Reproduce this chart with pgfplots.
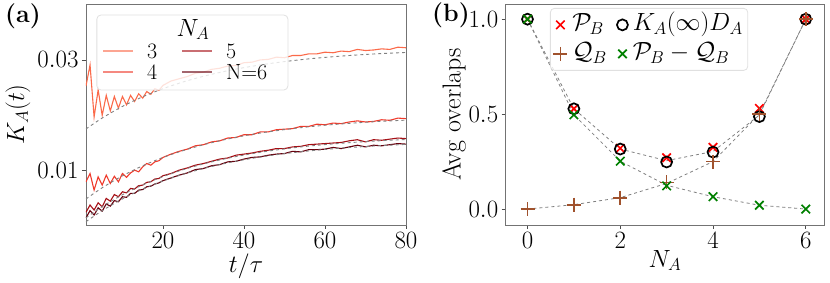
\documentclass[border=0pt]{standalone}
\usepackage{pgfplots}
\usepackage{pgfplotstable}
\pgfplotsset{compat=1.18}
\definecolor{cthree}{HTML}{FB6A4A}
\definecolor{cfour}{HTML}{EF3B2C}
\definecolor{cfive}{HTML}{A50F15}
\definecolor{csix}{HTML}{67000D}
\definecolor{csienna}{HTML}{A0522D}
\definecolor{cgreen}{HTML}{008000}
\pgfplotstableread{
t n3 n4 n5 n6
1 0.0253 0.0080 0.0025 0.0015
2 0.0291 0.0095 0.0038 0.0028
3 0.0197 0.0065 0.0029 0.0020
4 0.0246 0.0089 0.0042 0.0033
5 0.0200 0.0074 0.0035 0.0027
6 0.0236 0.0092 0.0050 0.0040
7 0.0208 0.0077 0.0045 0.0036
8 0.0234 0.0090 0.0057 0.0046
9 0.0213 0.0080 0.0053 0.0044
10 0.0234 0.0095 0.0062 0.0053
11 0.0219 0.0088 0.0060 0.0052
12 0.0236 0.0096 0.0068 0.0059
13 0.0225 0.0101 0.0067 0.0059
14 0.0239 0.0098 0.0073 0.0065
15 0.0231 0.0107 0.0074 0.0066
16 0.0243 0.0113 0.0079 0.0071
17 0.0238 0.0110 0.0080 0.0072
18 0.0248 0.0116 0.0085 0.0076
19 0.0245 0.0118 0.0086 0.0078
20 0.0254 0.0124 0.0091 0.0082
22 0.0262 0.0130 0.0095 0.0087
24 0.0266 0.0135 0.0101 0.0092
26 0.0270 0.0139 0.0105 0.0096
28 0.0276 0.0145 0.0110 0.0102
30 0.0278 0.0147 0.0113 0.0104
32 0.0283 0.0152 0.0117 0.0109
34 0.0285 0.0154 0.0121 0.0111
36 0.0289 0.0159 0.0123 0.0116
38 0.0290 0.0160 0.0128 0.0117
40 0.0295 0.0165 0.0130 0.0121
42 0.0296 0.0165 0.0132 0.0124
44 0.0300 0.0170 0.0135 0.0125
46 0.0301 0.0170 0.0137 0.0128
48 0.0305 0.0174 0.0140 0.0130
50 0.0304 0.0175 0.0140 0.0131
52 0.0308 0.0176 0.0143 0.0135
54 0.0308 0.0180 0.0144 0.0134
56 0.0311 0.0180 0.0147 0.0138
58 0.0311 0.0184 0.0148 0.0138
60 0.0314 0.0183 0.0149 0.0139
62 0.0313 0.0186 0.0150 0.0142
64 0.0316 0.0185 0.0151 0.0140
66 0.0315 0.0188 0.0154 0.0143
68 0.0319 0.0190 0.0156 0.0146
70 0.0317 0.0188 0.0152 0.0143
72 0.0318 0.0189 0.0156 0.0146
74 0.0320 0.0192 0.0155 0.0145
76 0.0319 0.0191 0.0157 0.0147
78 0.0323 0.0195 0.0159 0.0149
80 0.0322 0.0194 0.0158 0.0148
}\solidtab
\pgfplotstableread{
t d3 d4 d5 d6
1 0.01754 0.00490 0.00150 0.00080
5 0.01951 0.00692 0.00352 0.00279
10 0.02161 0.00908 0.00566 0.00491
15 0.02335 0.01089 0.00745 0.00667
20 0.02481 0.01239 0.00894 0.00814
25 0.02603 0.01364 0.01019 0.00937
30 0.02705 0.01469 0.01123 0.01040
35 0.02790 0.01557 0.01210 0.01126
40 0.02861 0.01630 0.01283 0.01198
45 0.02921 0.01691 0.01344 0.01258
50 0.02970 0.01742 0.01394 0.01308
55 0.03012 0.01785 0.01437 0.01350
60 0.03046 0.01821 0.01472 0.01384
65 0.03075 0.01850 0.01501 0.01413
70 0.03099 0.01875 0.01526 0.01437
75 0.03119 0.01896 0.01546 0.01458
80 0.03135 0.01913 0.01563 0.01475
}\dashtab
\begin{document}
\begin{tikzpicture}
\useasboundingbox (-86pt,-58pt) rectangle (744pt,225pt);
\pgfplotsset{myax/.style={scale only axis, height=221pt,
  axis line style={black!55, line width=0.8pt},
  tick style={black!70, line width=0.8pt},
  tick align=outside, tick pos=left, major tick length=4pt,
  tick label style={font=\fontsize{23}{27}\selectfont},
  label style={font=\fontsize{26}{30}\selectfont}}}
\begin{axis}[myax, at={(0pt,0pt)}, anchor=south west, width=320pt,
  xmin=1, xmax=80, ymin=0.0002, ymax=0.0401,
  xtick={20,40,60,80}, ytick={0.01,0.03}, yticklabels={$0.01$,$0.03$},
  scaled y ticks=false,
  xlabel={$t/\tau$}, ylabel={$K_A(t)$},
  xlabel style={at={(axis description cs:0.5,-0.185)}, anchor=center},
  ylabel style={at={(axis description cs:-0.2125,0.5)}, anchor=center},
  legend columns=2,
  legend cell align=left,
  legend image code/.code={\draw[#1] (0pt,0pt) -- (30pt,0pt);},
  legend style={at={(axis description cs:0.041,0.635)}, anchor=south west,
    draw=none, fill=none, font=\fontsize{22}{26}\selectfont,
    nodes={inner ysep=2pt, text height=16pt, text depth=1pt},
    /tikz/every odd column/.append style={column sep=11pt},
    /tikz/every even column/.append style={column sep=22pt}},
]
\addplot[cthree, line width=1.1pt, forget plot] table[x=t,y=n3] {\solidtab};
\addplot[cfour, line width=1.1pt, forget plot] table[x=t,y=n4] {\solidtab};
\addplot[cfive, line width=1.1pt, forget plot] table[x=t,y=n5] {\solidtab};
\addplot[csix, line width=1.1pt, forget plot] table[x=t,y=n6] {\solidtab};
\addplot[gray, dashed, line width=0.9pt, smooth, forget plot] table[x=t,y=d3] {\dashtab};
\addplot[gray, dashed, line width=0.9pt, smooth, forget plot] table[x=t,y=d4] {\dashtab};
\addplot[gray, dashed, line width=0.9pt, smooth, forget plot] table[x=t,y=d5] {\dashtab};
\addplot[gray, dashed, line width=0.9pt, smooth, forget plot] table[x=t,y=d6] {\dashtab};
\draw[fill=white, fill opacity=0.8, draw=black!12, line width=0.8pt, rounded corners=4pt]
  (axis description cs:0.034,0.950) rectangle (axis description cs:0.631,0.611);
\node[font=\fontsize{26}{30}\selectfont] at (axis description cs:0.334,0.885) {$N_A$};
\addlegendimage{cthree, line width=1.8pt, opacity=0.6}
\addlegendentry{3}
\addlegendimage{cfive, line width=1.8pt, opacity=0.6}
\addlegendentry{5}
\addlegendimage{cfour, line width=1.8pt, opacity=0.6}
\addlegendentry{4}
\addlegendimage{csix, line width=1.8pt, opacity=0.6}
\addlegendentry{N=6}
\end{axis}
\node[font=\fontsize{25}{30}\selectfont\bfseries] at (-63pt,209pt) {(a)};
\begin{axis}[myax, at={(419.7pt,0pt)}, anchor=south west, width=318.6pt,
  xmin=-0.47, xmax=6.4, ymin=-0.084, ymax=1.08,
  xtick={0,2,4,6}, ytick={0,0.5,1}, yticklabels={$0.0$,$0.5$,$1.0$},
  xlabel={$N_A$}, ylabel={Avg overlaps},
  xlabel style={at={(axis description cs:0.5,-0.161)}, anchor=center},
  ylabel style={at={(axis description cs:-0.162,0.5)}, anchor=center},
  legend columns=2,
  legend cell align=left,
  legend style={at={(axis description cs:0.139,0.982)}, anchor=north west,
    draw=black!12, line width=0.8pt, rounded corners=4pt, fill=white, fill opacity=0.8,
    text opacity=1, draw opacity=1, font=\fontsize{24}{28}\selectfont,
    nodes={inner ysep=2pt, text height=18pt, text depth=7pt},
    /tikz/every odd column/.append style={column sep=3pt},
    /tikz/every even column/.append style={column sep=8pt}},
]
\addplot[gray, dashed, line width=0.8pt, forget plot] coordinates {(0,1) (1,0.528) (2,0.316) (3,0.255) (4,0.303) (5,0.495) (6,1)};
\addplot[gray, dashed, line width=0.8pt, forget plot] coordinates {(0,0) (1,0.023) (2,0.06) (3,0.135) (4,0.25) (5,0.5) (6,1)};
\addplot[gray, dashed, line width=0.8pt, forget plot] coordinates {(0,1) (1,0.497) (2,0.252) (3,0.125) (4,0.065) (5,0.02) (6,0)};
\addplot[only marks, mark=x, red, mark size=6pt, line width=1.7pt] coordinates {(0,1) (1,0.528) (2,0.32) (3,0.27) (4,0.325) (5,0.53) (6,1)};
\addlegendentry{$\mathcal{P}_B$}
\addplot[only marks, mark=o, black, mark size=5.5pt, line width=1.7pt] coordinates {(0,1) (1,0.528) (2,0.316) (3,0.248) (4,0.30) (5,0.487) (6,1)};
\addlegendentry{$K_A(\infty)D_A$}
\addplot[only marks, mark=+, csienna, mark size=7pt, line width=1.7pt] coordinates {(0,0) (1,0.023) (2,0.06) (3,0.14) (4,0.25) (5,0.5) (6,1)};
\addlegendentry{$\mathcal{Q}_B$}
\addplot[only marks, mark=x, cgreen, mark size=6pt, line width=1.7pt] coordinates {(0,1) (1,0.496) (2,0.252) (3,0.122) (4,0.065) (5,0.02) (6,0)};
\addlegendentry{$\mathcal{P}_B-\mathcal{Q}_B$}
\end{axis}
\node[font=\fontsize{25}{30}\selectfont\bfseries] at (365pt,210pt) {(b)};
\end{tikzpicture}
\end{document}
